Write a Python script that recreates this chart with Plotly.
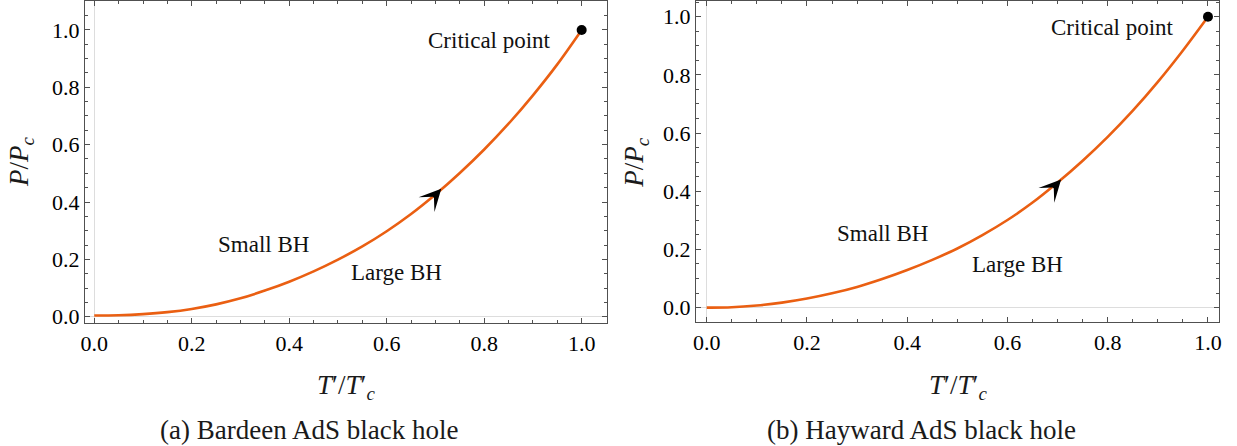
import plotly.graph_objects as go

# ---- data ----
t_ratio = [0.0, 0.05, 0.10, 0.15, 0.20, 0.25, 0.30, 0.35, 0.40, 0.45, 0.50,
           0.55, 0.60, 0.65, 0.70, 0.75, 0.80, 0.85, 0.90, 0.95, 1.0]
p_bardeen = [0.004, 0.005, 0.009, 0.016, 0.027, 0.043, 0.064, 0.091, 0.122, 0.158, 0.199,
             0.245, 0.298, 0.358, 0.426, 0.501, 0.583, 0.673, 0.772, 0.880, 1.0]
p_hayward = [0.0, 0.001, 0.007, 0.017, 0.031, 0.049, 0.071, 0.098, 0.129, 0.164, 0.203,
             0.249, 0.301, 0.361, 0.430, 0.505, 0.587, 0.677, 0.776, 0.884, 1.0]
critical_point = (1.0, 1.0)
arrow_tip = [(0.712, 0.446), (0.707, 0.440)]
labels = ["Critical point", "Small BH", "Large BH"]
label_pos = [[(0.81, 0.965), (0.348, 0.252), (0.62, 0.153)],
             [(0.809, 0.963), (0.35, 0.256), (0.62, 0.149)]]
captions = ["(a) Bardeen AdS black hole", "(b) Hayward AdS black hole"]
tick_vals = [0.0, 0.2, 0.4, 0.6, 0.8, 1.0]
tick_text = ["0.0", "0.2", "0.4", "0.6", "0.8", "1.0"]

W, H = 1237, 446
FONT = "Liberation Serif, Times New Roman, Times, serif"
ORANGE = "#EA5F12"
FRAME = "#505050"

fig = go.Figure()

panels = [
    dict(xa="x", ya="y", y=p_bardeen, xdom=[85 / W, 607 / W], ydom=[1 - 323 / H, 1 - 1 / H],
         xr=[-0.019, 1.052], yr=[-0.022, 1.101]),
    dict(xa="x2", ya="y2", y=p_hayward, xdom=[696 / W, 1219 / W], ydom=[1 - 322.3 / H, 1 - 1 / H],
         xr=[-0.0214, 1.022], yr=[-0.0506, 1.054]),
]

annotations = []
for i, p in enumerate(panels):
    fig.add_trace(go.Scatter(x=t_ratio, y=p["y"], mode="lines", xaxis=p["xa"], yaxis=p["ya"],
                             line=dict(color=ORANGE, width=2.6, shape="spline"),
                             showlegend=False, hoverinfo="skip"))
    fig.add_trace(go.Scatter(x=[critical_point[0]], y=[critical_point[1]], mode="markers",
                             xaxis=p["xa"], yaxis=p["ya"], cliponaxis=False,
                             marker=dict(color="black", size=10), showlegend=False,
                             hoverinfo="skip"))
    # arrowhead along the curve
    annotations.append(dict(x=arrow_tip[i][0], y=arrow_tip[i][1], xref=p["xa"], yref=p["ya"],
                            ax=-7, ay=7.5, axref="pixel", ayref="pixel", text="", showarrow=True,
                            arrowhead=3, arrowsize=2.4, arrowwidth=1.5, arrowcolor="black"))
    for lab, (lx, ly) in zip(labels, label_pos[i]):
        annotations.append(dict(x=lx, y=ly, xref=p["xa"], yref=p["ya"], text=lab, showarrow=False,
                                xanchor="center", yanchor="middle",
                                font=dict(family=FONT, size=23, color="#111")))
    xc = (p["xdom"][0] + p["xdom"][1]) / 2
    yc = (p["ydom"][0] + p["ydom"][1]) / 2
    # axis titles
    annotations.append(dict(x=xc, y=1 - 387 / H, xref="paper", yref="paper",
                            xanchor="center", yanchor="middle",
                            text="<i>T</i>′/<i>T</i>′<sub><i>c</i></sub>", showarrow=False,
                            font=dict(family=FONT, size=27, color="#1a1a1a")))
    annotations.append(dict(x=(21 if i == 0 else 636) / W, y=yc, xref="paper", yref="paper",
                            xanchor="center", yanchor="middle",
                            text="<i>P</i>/<i>P</i><sub><i>c</i></sub>", showarrow=False,
                            textangle=-90, font=dict(family=FONT, size=27, color="#1a1a1a")))
    annotations.append(dict(x=(309 if i == 0 else 921) / W, y=1 - 430 / H, xref="paper", yref="paper",
                            xanchor="center", yanchor="middle",
                            text=captions[i], showarrow=False,
                            font=dict(family=FONT, size=27, color="#1a1a1a")))

axis_common = dict(showline=True, mirror="ticks", linecolor=FRAME, linewidth=1.2,
                   ticks="inside", ticklen=5, tickwidth=1, tickcolor=FRAME,
                   tickvals=tick_vals, ticktext=tick_text,
                   tickfont=dict(family=FONT, size=22, color="#000"),
                   showgrid=False, zeroline=True, zerolinecolor="#dddddd", zerolinewidth=1.2,
                   minor=dict(ticks="inside", dtick=0.05, ticklen=3, tickcolor=FRAME, showgrid=False),
                   automargin=False, fixedrange=True)

layout = dict(width=W, height=H, margin=dict(l=0, r=0, t=0, b=0),
              paper_bgcolor="white", plot_bgcolor="white", annotations=annotations,
              font=dict(family=FONT), hovermode=False)
for j, p in enumerate(panels):
    sfx = "" if j == 0 else "2"
    layout["xaxis" + sfx] = dict(axis_common, domain=p["xdom"], range=p["xr"], anchor="y" + sfx)
    layout["yaxis" + sfx] = dict(axis_common, domain=p["ydom"], range=p["yr"], anchor="x" + sfx)

fig.update_layout(**layout)
fig.write_html("out.html", config={"displayModeBar": False},
               post_script="document.body.style.margin='0';document.body.style.overflow='hidden';")
